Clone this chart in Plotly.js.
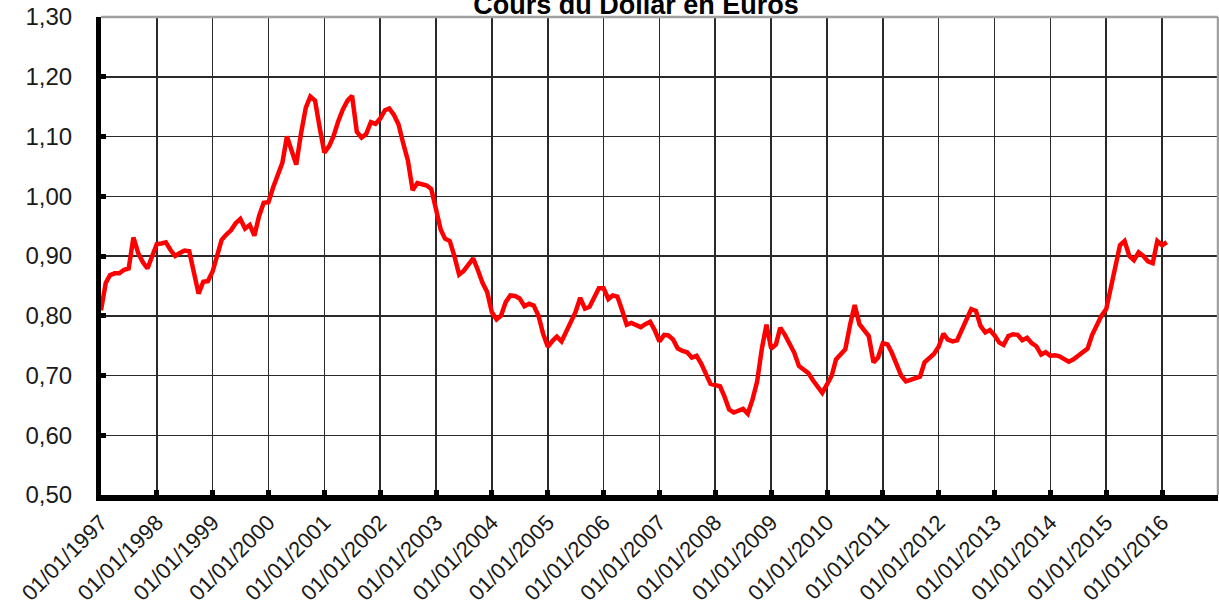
<!DOCTYPE html>
<html>
<head>
<meta charset="utf-8">
<script src="https://cdn.plot.ly/plotly-3.0.1.min.js"></script>
<style>html,body{margin:0;padding:0;background:#fff;}#chart{width:1219px;height:615px;}</style>
</head>
<body>
<div id="chart"></div>
<script>
// Monthly values (USD expressed in EUR), January of each year first
const firstYear = 1997;
const rates1997 = [0.809, 0.855, 0.868, 0.871, 0.871, 0.877, 0.879, 0.931, 0.905, 0.890, 0.879, 0.900];
const rates1998 = [0.920, 0.921, 0.923, 0.910, 0.900, 0.905, 0.909, 0.908, 0.875, 0.837, 0.857, 0.858];
const rates1999 = [0.874, 0.905, 0.927, 0.936, 0.943, 0.955, 0.962, 0.946, 0.952, 0.934, 0.967, 0.989];
const rates2000 = [0.990, 1.015, 1.036, 1.056, 1.100, 1.075, 1.053, 1.105, 1.148, 1.167, 1.160, 1.115];
const rates2001 = [1.073, 1.084, 1.100, 1.125, 1.145, 1.160, 1.168, 1.108, 1.098, 1.104, 1.124, 1.121];
const rates2002 = [1.130, 1.144, 1.147, 1.136, 1.120, 1.088, 1.060, 1.010, 1.022, 1.020, 1.018, 1.012];
const rates2003 = [0.980, 0.944, 0.929, 0.925, 0.900, 0.869, 0.875, 0.885, 0.896, 0.877, 0.855, 0.840];
const rates2004 = [0.806, 0.794, 0.800, 0.823, 0.834, 0.833, 0.829, 0.816, 0.820, 0.817, 0.800, 0.770];
const rates2005 = [0.748, 0.758, 0.765, 0.757, 0.773, 0.790, 0.806, 0.830, 0.812, 0.815, 0.831, 0.846];
const rates2006 = [0.846, 0.828, 0.834, 0.832, 0.810, 0.785, 0.788, 0.785, 0.781, 0.786, 0.790, 0.776];
const rates2007 = [0.757, 0.768, 0.767, 0.760, 0.745, 0.741, 0.739, 0.730, 0.733, 0.720, 0.704, 0.686];
const rates2008 = [0.684, 0.682, 0.665, 0.643, 0.638, 0.642, 0.644, 0.636, 0.660, 0.690, 0.745, 0.785];
const rates2009 = [0.745, 0.752, 0.780, 0.768, 0.755, 0.738, 0.716, 0.710, 0.704, 0.692, 0.680, 0.671];
const rates2010 = [0.685, 0.700, 0.727, 0.737, 0.744, 0.785, 0.818, 0.786, 0.776, 0.766, 0.722, 0.730];
const rates2011 = [0.754, 0.752, 0.738, 0.718, 0.700, 0.690, 0.692, 0.694, 0.698, 0.722, 0.730, 0.736];
const rates2012 = [0.748, 0.770, 0.760, 0.757, 0.759, 0.776, 0.793, 0.811, 0.808, 0.783, 0.772, 0.776];
const rates2013 = [0.767, 0.755, 0.751, 0.766, 0.769, 0.768, 0.759, 0.763, 0.754, 0.749, 0.735, 0.739];
const rates2014 = [0.733, 0.734, 0.732, 0.727, 0.723, 0.727, 0.733, 0.739, 0.745, 0.768, 0.784, 0.800];
const rates2015 = [0.811, 0.845, 0.880, 0.918, 0.925, 0.900, 0.893, 0.906, 0.900, 0.891, 0.888, 0.925];
const rates2016 = [0.918, 0.923];

const yearlyRates = [rates1997, rates1998, rates1999, rates2000, rates2001, rates2002, rates2003,
  rates2004, rates2005, rates2006, rates2007, rates2008, rates2009, rates2010, rates2011,
  rates2012, rates2013, rates2014, rates2015, rates2016];

const tickYears = [1997,1998,1999,2000,2001,2002,2003,2004,2005,2006,2007,2008,2009,2010,2011,2012,2013,2014,2015,2016];
const tickLabels = tickYears.map(y => '01/01/' + y);
const yTicks = [0.5,0.6,0.7,0.8,0.9,1.0,1.1,1.2,1.3];

const chartTitle = 'Cours du Dollar en Euros';

const dates = [], values = [];
yearlyRates.forEach((arr, i) => {
  const yr = firstYear + i;
  arr.forEach((v, m) => {
    dates.push(yr + '-' + String(m + 1).padStart(2, '0') + '-01');
    values.push(v);
  });
});

const fam = 'Liberation Sans, Arial, sans-serif';
const yFont = {family: fam, size: 24, color: '#1a1a1a'};
const xFont = {family: fam, size: 22, color: '#1a1a1a'};

const trace = {
  x: dates, y: values, type: 'scatter', mode: 'lines',
  line: {color: '#ff0000', width: 4.5, shape: 'linear'},
  hoverinfo: 'x+y'
};

const layout = {
  width: 1219, height: 615,
  margin: {l: 101, r: 1, t: 17, b: 120, pad: 0},
  paper_bgcolor: '#ffffff', plot_bgcolor: '#ffffff',
  separators: ', ',
  showlegend: false,
  font: yFont,
  title: {
    text: '<b>' + chartTitle + '</b>',
    font: {family: fam, size: 27, color: '#000'},
    x: 636/1219, xref: 'container', xanchor: 'center',
    y: 1 - 5/615, yref: 'container', yanchor: 'middle'
  },
  xaxis: {
    type: 'date',
    range: ['1997-01-01', '2017-01-01'],
    tickmode: 'array',
    tickvals: tickYears.map(y => y + '-01-01').concat(['2017-01-01']),
    ticktext: tickLabels.concat(['']),
    tickangle: -45,
    tickfont: xFont,
    showgrid: true, gridcolor: '#2a2a2a', gridwidth: 1.5,
    showline: true, linecolor: '#000', linewidth: 6,
    ticks: 'inside', ticklen: 5, tickwidth: 5, tickcolor: '#000',
    zeroline: false, fixedrange: true
  },
  yaxis: {
    range: [0.5, 1.3],
    tickmode: 'array',
    tickvals: yTicks,
    tickformat: '.2f',
    tickfont: yFont,
    showgrid: true, gridcolor: '#2a2a2a', gridwidth: 1.5,
    showline: true, linecolor: '#000', linewidth: 5,
    ticks: 'inside', ticklen: 5, tickwidth: 5, tickcolor: '#000',
    ticklabelstandoff: 19,
    zeroline: false, fixedrange: true
  },
  shapes: [
    {type: 'line', xref: 'paper', yref: 'paper', x0: 0, x1: 1, y0: 1, y1: 1, line: {color: '#a0a0a0', width: 2.5}, layer: 'above'},
    {type: 'line', xref: 'paper', yref: 'paper', x0: 1, x1: 1, y0: 0, y1: 1, line: {color: '#a0a0a0', width: 2.5}, layer: 'above'}
  ]
};

Plotly.newPlot('chart', [trace], layout, {displayModeBar: false, staticPlot: true});
</script>
</body>
</html>
